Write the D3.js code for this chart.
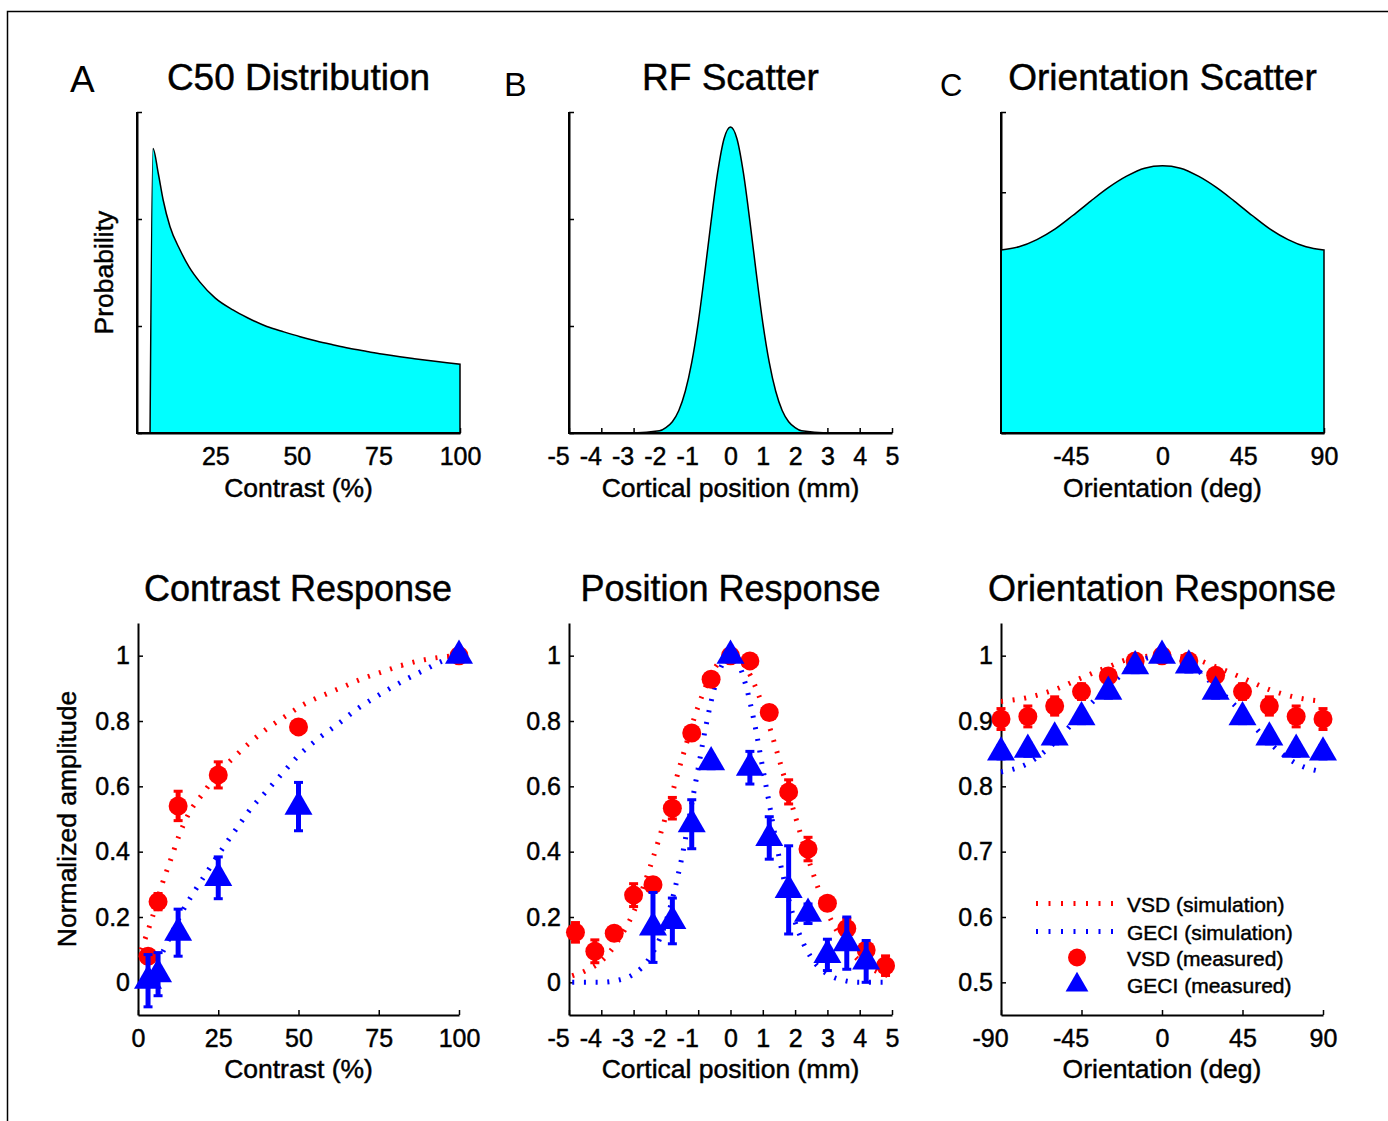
<!DOCTYPE html>
<html>
<head>
<meta charset="utf-8">
<script src="https://cdn.jsdelivr.net/npm/d3@7"></script>
<style>
  body { margin: 0; background: #fff; }
  svg { display: block; }
  text { font-family: "Liberation Sans", Arial, sans-serif; fill: #000; stroke: #000; stroke-width: 0.45px; }
</style>
</head>
<body>
<svg id="fig" width="1388" height="1121"></svg>
<script>
// ---- top row: distributions ----
const c50X = [5.0, 5.9, 7.5, 9, 11.1, 14.2, 17, 20.3, 25, 30.4, 35, 40.8, 46, 51, 56, 61, 66, 71.5, 76, 81.6, 86, 91.7, 96, 100];
const c50P = [0, 2.66, 2.43, 2.18, 1.93, 1.71, 1.55, 1.41, 1.26, 1.15, 1.075, 0.995, 0.945, 0.90, 0.86, 0.825, 0.792, 0.762, 0.738, 0.712, 0.694, 0.672, 0.656, 0.643];

const rfX = [-5, -3, -2.2, -2.0, -1.8, -1.6, -1.4, -1.2, -1.0, -0.8, -0.6, -0.4, -0.2, 0, 0.2, 0.4, 0.6, 0.8, 1.0, 1.2, 1.4, 1.6, 1.8, 2.0, 2.2, 3, 5];
const rfP = [0, 0, 0.02, 0.05, 0.105, 0.21, 0.39, 0.66, 1.03, 1.49, 1.98, 2.43, 2.75, 2.86, 2.75, 2.43, 1.98, 1.49, 1.03, 0.66, 0.39, 0.21, 0.105, 0.05, 0.02, 0, 0];

const oriScX = [-90, -80, -70, -60, -50, -40, -30, -20, -10, 0, 10, 20, 30, 40, 50, 60, 70, 80, 90];
const oriScP = [2.28, 2.32, 2.41, 2.54, 2.71, 2.89, 3.06, 3.2, 3.3, 3.33, 3.3, 3.2, 3.06, 2.89, 2.71, 2.54, 2.41, 2.32, 2.28];

// ---- bottom row: contrast response ----
const contrastLevels = [3.125, 6.25, 12.5, 25, 50, 100];
const vsdContrast = [0.08, 0.247, 0.54, 0.635, 0.782, 1.0];
const vsdContrastErr = [0.02, 0.025, 0.045, 0.04, 0.02, 0];
const geciContrast = [0.005, 0.025, 0.152, 0.32, 0.538, 1.0];
const geciContrastErr = [0.08, 0.066, 0.072, 0.064, 0.074, 0];
const vsdSimContrastX = [1, 3, 4.5, 7.5, 10, 13, 16, 20, 25, 30, 35, 40, 46, 52, 58, 64, 70, 76, 82, 88, 94, 100];
const vsdSimContrast = [0.10, 0.155, 0.20, 0.30, 0.37, 0.455, 0.52, 0.575, 0.64, 0.69, 0.735, 0.775, 0.815, 0.853, 0.88, 0.905, 0.93, 0.95, 0.97, 0.985, 0.995, 1.0];
const geciSimContrastX = [3.125, 7.5, 10, 14, 18, 22, 26, 31, 35, 40, 45, 50, 56, 63, 68, 73, 78, 84, 89, 94.5, 100];
const geciSimContrast = [0.04, 0.09, 0.14, 0.22, 0.285, 0.345, 0.405, 0.475, 0.53, 0.585, 0.64, 0.694, 0.745, 0.796, 0.835, 0.867, 0.897, 0.93, 0.955, 0.982, 1.0];

// ---- position response ----
const posX = [-4.8, -4.2, -3.6, -3.0, -2.4, -1.8, -1.2, -0.6, 0, 0.6, 1.2, 1.8, 2.4, 3.0, 3.6, 4.2, 4.8];
const vsdPos = [0.153, 0.095, 0.15, 0.267, 0.299, 0.533, 0.763, 0.928, 1.0, 0.984, 0.826, 0.583, 0.408, 0.242, 0.165, 0.099, 0.051];
const vsdPosErr = [0.03, 0.035, 0.02, 0.035, 0.02, 0.033, 0.02, 0.02, 0, 0.02, 0.02, 0.037, 0.036, 0.02, 0.03, 0.02, 0.03];
const geciPosX = [-2.4, -1.8, -1.2, -0.6, 0, 0.6, 1.2, 1.8, 2.4, 3.0, 3.6, 4.2];
const geciPos = [0.168, 0.188, 0.484, 0.674, 1.0, 0.657, 0.442, 0.283, 0.21, 0.084, 0.12, 0.064];
const geciPosErr = [0.107, 0.07, 0.075, 0.02, 0, 0.05, 0.065, 0.135, 0.03, 0.048, 0.08, 0.064];
const vsdSimPosX = [-4.9, -4.5, -4.0, -3.5, -3.0, -2.5, -2.0, -1.5, -1.0, -0.5, 0, 0.5, 1.0, 1.5, 2.0, 2.5, 3.0, 3.5, 4.0, 4.5, 4.9];
const vsdSimPos = [0.02, 0.035, 0.065, 0.125, 0.215, 0.35, 0.51, 0.685, 0.845, 0.96, 1.0, 0.96, 0.845, 0.685, 0.51, 0.35, 0.215, 0.125, 0.065, 0.035, 0.02];
const geciSimPosX = [-4.9, -4.0, -3.5, -3.0, -2.5, -2.0, -1.75, -1.5, -1.25, -1.0, -0.75, -0.5, -0.25, 0, 0.25, 0.5, 0.75, 1.0, 1.25, 1.5, 1.75, 2.0, 2.5, 3.0, 3.5, 4.0, 4.9];
const geciSimPos = [0, 0, 0.006, 0.025, 0.075, 0.185, 0.275, 0.385, 0.52, 0.655, 0.79, 0.90, 0.975, 1.0, 0.975, 0.90, 0.79, 0.655, 0.52, 0.385, 0.275, 0.185, 0.075, 0.025, 0.006, 0, 0];

// ---- orientation response ----
const oriX = [-90, -75, -60, -45, -30, -15, 0, 15, 30, 45, 60, 75, 90];
const vsdOri = [0.903, 0.907, 0.923, 0.945, 0.969, 0.992, 1.0, 0.992, 0.970, 0.945, 0.923, 0.907, 0.903];
const vsdOriErr = [0.016, 0.016, 0.014, 0.012, 0.01, 0.01, 0, 0.01, 0.01, 0.012, 0.014, 0.016, 0.016];
const geciOri = [0.852, 0.856, 0.875, 0.906, 0.945, 0.984, 1.0, 0.985, 0.945, 0.906, 0.875, 0.856, 0.852];
const geciOriErr = [0.01, 0.01, 0.01, 0.01, 0.01, 0.01, 0, 0.01, 0.01, 0.01, 0.01, 0.01, 0.01];
const vsdSimOri = [0.930, 0.936, 0.948, 0.966, 0.983, 0.997, 1.0, 0.997, 0.983, 0.966, 0.948, 0.936, 0.930];
const geciSimOri = [0.822, 0.835, 0.867, 0.912, 0.952, 0.988, 1.0, 0.988, 0.952, 0.912, 0.867, 0.835, 0.822];

// ---- ticks ----
const topAXTicks = [25, 50, 75, 100];
const posTicks = [-5, -4, -3, -2, -1, 0, 1, 2, 3, 4, 5];
const topCXTicks = [-45, 0, 45, 90];
const contrastTicks = [0, 25, 50, 75, 100];
const oriTicks = [-90, -45, 0, 45, 90];
const probTicks3 = [0, 1, 2, 3];
const probTicks4 = [0, 1, 2, 3, 4];
const ampTicks = [0, 0.2, 0.4, 0.6, 0.8, 1];
const oriAmpTicks = [0.5, 0.6, 0.7, 0.8, 0.9, 1];

const RED = "#ff0000", BLUE = "#0000ff", CYAN = "#00ffff";
const FONT = "Liberation Sans, Arial, sans-serif";

let svg = d3.select("#fig");

// figure frame (only top and left edges show)
svg.append("path")
    .attr("d", "M1388,11.5H7.5V1121")
    .attr("fill", "none")
    .attr("stroke", "#000")
    .attr("stroke-width", 1.5);

function drawAxes(x, y, xt, yt, yLabels) {
    let ax = svg.append("g")
        .attr("transform", `translate(0,${y.range()[0]})`)
        .call(d3.axisBottom(x).tickValues(xt).tickSizeInner(-5).tickSizeOuter(0)
            .tickPadding(14).tickFormat(d => String(d)));
    // negative labels sit a bit to the left of their tick in the original
    ax.selectAll("text").attr("x", d => d < 0 ? -11 : 0);

    let ay = svg.append("g")
        .attr("transform", `translate(${x.range()[0]},0)`)
        .call(d3.axisLeft(y).tickValues(yt).tickSizeInner(-5).tickSizeOuter(0)
            .tickPadding(8).tickFormat(yLabels ? (d => String(d)) : () => ""));

    [ax, ay].forEach(a => {
        a.attr("font-size", 25).attr("font-family", FONT);
        a.select(".domain").attr("stroke-width", 2);
        a.selectAll(".tick line").attr("stroke-width", 1.5);
        a.selectAll("text").attr("fill", "#000");
    });
}

function frame(x, y) {
    svg.append("path")
        .attr("d", `M${x.range()[0]},${y.range()[1]}V${y.range()[0]}H${x.range()[1]}`)
        .attr("fill", "none")
        .attr("stroke", "#000")
        .attr("stroke-width", 2);
}

function density(x, y, xs, ps) {
    let area = d3.area()
        .x(d => x(d[0]))
        .y0(y(0))
        .y1(d => y(d[1]))
        .curve(d3.curveMonotoneX);
    svg.append("path")
        .datum(d3.zip(xs, ps))
        .attr("d", d => area(d) + "Z")
        .attr("fill", CYAN)
        .attr("stroke", "#000")
        .attr("stroke-width", 1.5);
}

function simLine(x, y, xs, vs, color) {
    let line = d3.line()
        .x(d => x(d[0]))
        .y(d => y(d[1]))
        .curve(d3.curveMonotoneX);
    svg.append("path")
        .datum(d3.zip(xs, vs))
        .attr("d", line)
        .attr("fill", "none")
        .attr("stroke", color)
        .attr("stroke-width", 5)
        .attr("stroke-dasharray", "2 9.7");
}

function errorBars(x, y, xs, vs, es, color) {
    let g = svg.append("g").attr("stroke", color);
    let pts = d3.zip(xs, vs, es).filter(d => d[2] > 0);
    g.selectAll("line.bar").data(pts).join("line")
        .attr("class", "bar")
        .attr("x1", d => x(d[0])).attr("x2", d => x(d[0]))
        .attr("y1", d => y(d[1] - d[2])).attr("y2", d => y(d[1] + d[2]))
        .attr("stroke-width", 5);
    g.selectAll("line.cap").data(pts.flatMap(d => [[d[0], d[1] - d[2]], [d[0], d[1] + d[2]]])).join("line")
        .attr("class", "cap")
        .attr("x1", d => x(d[0]) - 4.5).attr("x2", d => x(d[0]) + 4.5)
        .attr("y1", d => y(d[1])).attr("y2", d => y(d[1]))
        .attr("stroke-width", 3);
}

function circles(x, y, xs, vs) {
    svg.append("g").selectAll("circle")
        .data(d3.zip(xs, vs)).join("circle")
        .attr("cx", d => x(d[0]))
        .attr("cy", d => y(d[1]))
        .attr("r", 9.5)
        .attr("fill", RED);
}

function triangles(x, y, xs, vs) {
    let sym = d3.symbol(d3.symbolTriangle, 340);
    svg.append("g").selectAll("path")
        .data(d3.zip(xs, vs)).join("path")
        .attr("transform", d => `translate(${x(d[0])},${y(d[1])})`)
        .attr("d", sym)
        .attr("fill", BLUE);
}

function text(str, x, y, size, opts = {}) {
    let t = svg.append("text")
        .attr("x", x).attr("y", y)
        .attr("font-size", size)
        .attr("text-anchor", opts.anchor || "middle")
        .text(str);
    if (opts.rotate) t.attr("transform", `rotate(-90,${x},${y})`);
    if (opts.thin) t.style("stroke-width", "0px");
    return t;
}

// ================= top row =================
let yTop = d3.scaleLinear().domain([0, 3]).range([433, 112]);
let yTopC = d3.scaleLinear().domain([0, 4]).range([433, 112]);

let xA = d3.scaleLinear().domain([1, 100]).range([137, 460]);
drawAxes(xA, yTop, topAXTicks, probTicks3, false);
density(xA, yTop, c50X, c50P);
frame(xA, yTop);

let xB = d3.scaleLinear().domain([-5, 5]).range([569, 892]);
drawAxes(xB, yTop, posTicks, probTicks3, false);
density(xB, yTop, rfX, rfP);
frame(xB, yTop);

let xC = d3.scaleLinear().domain([-90, 90]).range([1001, 1324]);
drawAxes(xC, yTopC, topCXTicks, probTicks4, false);
density(xC, yTopC, oriScX, oriScP);
frame(xC, yTopC);

text("A", 70, 92, 37, {anchor: "start", thin: true});
text("B", 504, 96, 34, {anchor: "start", thin: true});
text("C", 940, 96, 31, {anchor: "start", thin: true});
text("C50 Distribution", 298.5, 90, 37);
text("RF Scatter", 730.5, 90, 37);
text("Orientation Scatter", 1162.5, 90, 37);
text("Contrast (%)", 298.5, 497, 26.5);
text("Cortical position (mm)", 730.5, 497, 26.5);
text("Orientation (deg)", 1162.5, 497, 26.5);
text("Probability", 113, 272.5, 26.5, {rotate: true});

// ================= bottom row =================
let yAmp = d3.scaleLinear().domain([-0.1, 1.1]).range([1015, 623]);
let yOri = d3.scaleLinear().domain([0.45, 1.05]).range([1015, 623]);

// contrast response
let xD = d3.scaleLinear().domain([0, 100]).range([138, 459]);
drawAxes(xD, yAmp, contrastTicks, ampTicks, true);
simLine(xD, yAmp, vsdSimContrastX, vsdSimContrast, RED);
simLine(xD, yAmp, geciSimContrastX, geciSimContrast, BLUE);
errorBars(xD, yAmp, contrastLevels, vsdContrast, vsdContrastErr, RED);
circles(xD, yAmp, contrastLevels, vsdContrast);
errorBars(xD, yAmp, contrastLevels, geciContrast, geciContrastErr, BLUE);
triangles(xD, yAmp, contrastLevels, geciContrast);

// position response
let xE = d3.scaleLinear().domain([-5, 5]).range([569, 892]);
drawAxes(xE, yAmp, posTicks, ampTicks, true);
simLine(xE, yAmp, vsdSimPosX, vsdSimPos, RED);
simLine(xE, yAmp, geciSimPosX, geciSimPos, BLUE);
errorBars(xE, yAmp, posX, vsdPos, vsdPosErr, RED);
circles(xE, yAmp, posX, vsdPos);
errorBars(xE, yAmp, geciPosX, geciPos, geciPosErr, BLUE);
triangles(xE, yAmp, geciPosX, geciPos);

// orientation response
let xF = d3.scaleLinear().domain([-90, 90]).range([1001, 1323]);
drawAxes(xF, yOri, oriTicks, oriAmpTicks, true);
simLine(xF, yOri, oriX, vsdSimOri, RED);
simLine(xF, yOri, oriX, geciSimOri, BLUE);
errorBars(xF, yOri, oriX, vsdOri, vsdOriErr, RED);
circles(xF, yOri, oriX, vsdOri);
errorBars(xF, yOri, oriX, geciOri, geciOriErr, BLUE);
triangles(xF, yOri, oriX, geciOri);

text("Contrast Response", 298, 601, 36);
text("Position Response", 730.5, 601, 36);
text("Orientation Response", 1162, 601, 36);
text("Contrast (%)", 298.5, 1078, 26.5);
text("Cortical position (mm)", 730.5, 1078, 26.5);
text("Orientation (deg)", 1162, 1078, 26.5);
text("Normalized amplitude", 76, 819, 26.5, {rotate: true});

// legend
const legendLabels = ["VSD (simulation)", "GECI (simulation)", "VSD (measured)", "GECI (measured)"];
const legendRows = [903.5, 931.5, 957.5, 985];
let lg = svg.append("g");
[RED, BLUE].forEach((c, i) => {
    lg.append("line")
        .attr("x1", 1036).attr("x2", 1113)
        .attr("y1", legendRows[i]).attr("y2", legendRows[i])
        .attr("stroke", c).attr("stroke-width", 5)
        .attr("stroke-dasharray", "2 10.5");
});
lg.append("circle").attr("cx", 1077).attr("cy", legendRows[2]).attr("r", 9).attr("fill", RED);
lg.append("path")
    .attr("transform", `translate(1077,${legendRows[3]})`)
    .attr("d", d3.symbol(d3.symbolTriangle, 225))
    .attr("fill", BLUE);
legendLabels.forEach((s, i) => {
    text(s, 1127, legendRows[i] + 8, 21, {anchor: "start"});
});
</script>
</body>
</html>
